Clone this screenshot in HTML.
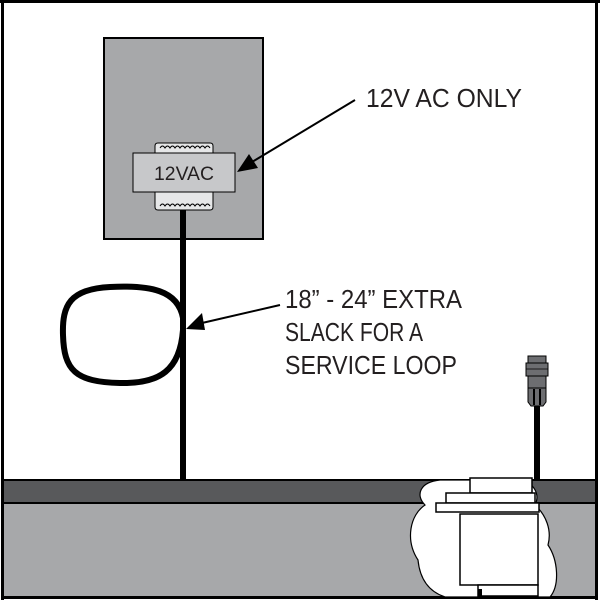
<!DOCTYPE html>
<html><head><style>html,body{margin:0;padding:0;background:#fff}</style></head>
<body>
<svg width="600" height="602" viewBox="0 0 600 602" xmlns="http://www.w3.org/2000/svg" style="display:block">
<rect x="0" y="0" width="600" height="602" fill="#fff"/>
<rect x="3" y="480" width="593" height="23" fill="#58595b" stroke="#000" stroke-width="2"/>
<rect x="3" y="503" width="593" height="94" fill="#a7a8aa" stroke="#000" stroke-width="2"/>
<rect x="0" y="0" width="600" height="3" fill="#000"/>
<rect x="1" y="0" width="3" height="600" fill="#000"/>
<rect x="595" y="0" width="3" height="600" fill="#000"/>
<rect x="1" y="596" width="597" height="3" fill="#000"/>
<path d="M440 480 C420 482 415 495 425 505 C410 515 405 540 418 560 C420 580 430 592 445 597 L550 597 C560 585 558 560 548 545 C552 530 546 515 535 505 C540 495 535 483 520 480 Z" fill="#fff" stroke="#000" stroke-width="1.2"/>
<line x1="436" y1="480" x2="470" y2="480" stroke="#000" stroke-width="1" stroke-dasharray="5,3"/>
<rect x="470" y="478" width="62" height="15" fill="#fff" stroke="#000" stroke-width="1.5"/>
<rect x="446" y="493" width="89" height="10" fill="#fff" stroke="#000" stroke-width="1.5"/>
<rect x="436" y="503" width="103" height="9" fill="#fff" stroke="#000" stroke-width="1.5"/>
<path d="M460 514 L538 514 L538 585 L460 585 Z" fill="#fff" stroke="#000" stroke-width="1.5"/>
<rect x="478" y="585" width="60" height="11" fill="#fff" stroke="#000" stroke-width="1.5"/>
<rect x="478" y="589" width="4" height="9" fill="#000"/>
<rect x="104" y="38" width="159" height="201" fill="#a7a8aa" stroke="#000" stroke-width="2"/>
<path d="M155 153 L155 146 Q155 143 158 143 L210 143 Q213 143 213 146 L213 153 Z" fill="#e6e7e8" stroke="#000" stroke-width="1"/>
<path d="M160 148 q2.5 -4 5 0 q2.5 -4 5 0 q2.5 -4 5 0 q2.5 -4 5 0 q2.5 -4 5 0 q2.5 -4 5 0 q2.5 -4 5 0 q2.5 -4 5 0 q2.5 -4 5 0 q2.5 -4 5 0" fill="none" stroke="#000" stroke-width="1"/>
<path d="M155 192 L155 207 Q155 210 158 210 L210 210 Q213 210 213 207 L213 192 Z" fill="#e6e7e8" stroke="#000" stroke-width="1"/>
<path d="M160 206 q2.5 -4 5 0 q2.5 -4 5 0 q2.5 -4 5 0 q2.5 -4 5 0 q2.5 -4 5 0 q2.5 -4 5 0 q2.5 -4 5 0 q2.5 -4 5 0 q2.5 -4 5 0 q2.5 -4 5 0" fill="none" stroke="#000" stroke-width="1"/>
<rect x="133" y="153" width="102" height="39" fill="#c7c8ca" stroke="#000" stroke-width="1"/>
<text x="184" y="180" text-anchor="middle" font-family="Liberation Sans, sans-serif" font-size="19" fill="#231f20" textLength="60" lengthAdjust="spacingAndGlyphs">12VAC</text>
<rect x="180" y="210" width="6" height="271" fill="#000"/>
<path d="M183 318 C178 290 150 285 110 287 C70 289 62 305 63 335 C64 370 75 382 120 383 C160 384 180 370 183 330" fill="none" stroke="#000" stroke-width="6"/>
<rect x="534" y="404" width="6" height="77" fill="#000"/>
<rect x="528" y="356" width="18" height="8" fill="#6d6e71" stroke="#000" stroke-width="1"/>
<rect x="526" y="363" width="22" height="13" fill="#6d6e71" stroke="#000" stroke-width="1"/>
<line x1="526" y1="369" x2="548" y2="369" stroke="#000" stroke-width="0.8"/>
<rect x="528" y="376" width="18" height="12" fill="#6d6e71" stroke="#000" stroke-width="1"/>
<path d="M528 388 L546 388 L546 402 L543 406 L531 406 L528 402 Z" fill="#6d6e71" stroke="#000" stroke-width="1"/>
<rect x="533" y="389" width="2" height="16" fill="#000"/><rect x="539" y="389" width="2" height="16" fill="#000"/>
<line x1="355" y1="100" x2="252" y2="162" stroke="#000" stroke-width="2"/>
<polygon points="237,172 249,154 258,168" fill="#000"/>
<line x1="280" y1="305" x2="202" y2="323" stroke="#000" stroke-width="2"/>
<polygon points="186,329 202,313 205,330" fill="#000"/>
<g font-family="Liberation Sans, sans-serif" font-size="26" fill="#231f20">
<text x="366" y="107" textLength="156" lengthAdjust="spacingAndGlyphs">12V AC ONLY</text>
<text x="285" y="308" textLength="177" lengthAdjust="spacingAndGlyphs">18” - 24” EXTRA</text>
<text x="285" y="341" textLength="138" lengthAdjust="spacingAndGlyphs">SLACK FOR A</text>
<text x="285" y="374" textLength="172" lengthAdjust="spacingAndGlyphs">SERVICE LOOP</text>
</g>
</svg>
</body></html>
